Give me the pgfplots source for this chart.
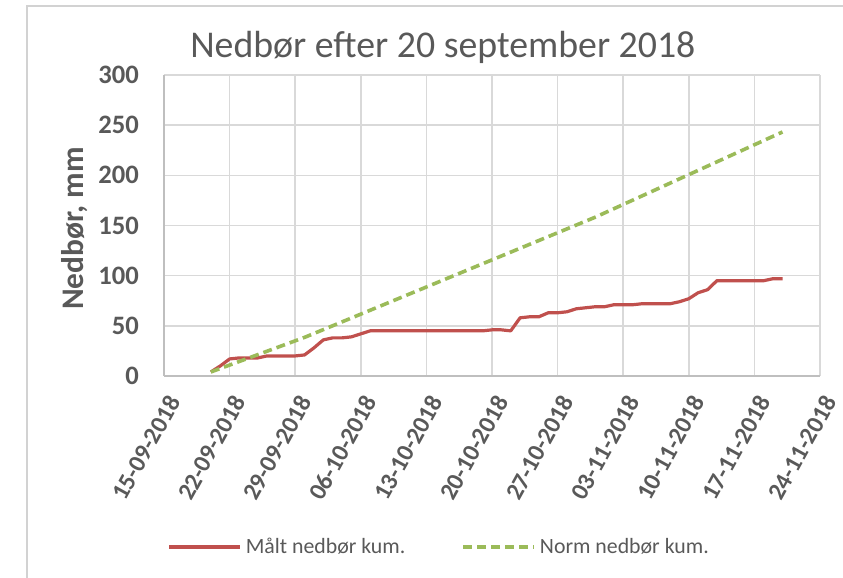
\documentclass[border=0pt]{standalone}
\usepackage{pgfplots}
\pgfplotsset{compat=1.18}
\usepackage{fontspec}
\setmainfont{Carlito}
\definecolor{maaltred}{HTML}{C0504D}
\definecolor{normgreen}{HTML}{9BBB59}
\definecolor{txtgray}{HTML}{595959}
\definecolor{gridgray}{HTML}{D9D9D9}
\definecolor{axisgray}{HTML}{BFBFBF}

% days counted from 15-09-2018
\pgfplotstableread{
day val
5 4
6 10
7 17
8 18
9 18
10 18
11 20
12 20
13 20
14 20
15 21
16 28
17 36
18 38
19 38
20 39
21 42
22 45
23 45
24 45
25 45
26 45
27 45
28 45
29 45
30 45
31 45
32 45
33 45
34 45
35 46
36 46
37 45
38 58
39 59
40 59
41 63
42 63
43 64
44 67
45 68
46 69
47 69
48 71
49 71
50 71
51 72
52 72
53 72
54 72
55 74
56 77
57 83
58 86
59 95
60 95
61 95
62 95
63 95
64 95
65 97
66 97
}\maalt

\pgfplotstableread{
day val
5 4
15 38.5
46 158.2
66 243.2
}\norm

\begin{document}
\begin{tikzpicture}
\useasboundingbox (-82pt,-101pt) rectangle (339.5pt,188pt);
\draw[axisgray!70, line width=1pt] (-68.5pt,-101pt) -- (-68.5pt,185pt) -- (339.5pt,185pt);
\begin{axis}[
    at={(0,0)}, anchor=south west,
    scale only axis,
    width=328pt, height=150.5pt,
    xmin=0, xmax=70, ymin=0, ymax=300,
    xtick={0,7,...,70},
    xticklabels={15-09-2018,22-09-2018,29-09-2018,06-10-2018,13-10-2018,20-10-2018,27-10-2018,03-11-2018,10-11-2018,17-11-2018,24-11-2018},
    ytick={0,50,...,300},
    axis lines=left,
    axis line style={-, draw=axisgray, line width=0.8pt},
    major tick length=0pt,
    grid=major,
    grid style={gridgray, line width=0.8pt},
    /pgf/number format/assume math mode=true,
    yticklabel style={font=\fontsize{13.3}{14}\selectfont\bfseries, text=txtgray, xshift=-9pt},
    xticklabel style={font=\fontsize{12.3}{13}\selectfont\bfseries, text=txtgray, rotate=61, anchor=east, yshift=-9.5pt, xshift=-3.5pt},
    ylabel={Nedbør, mm},
    ylabel style={font=\fontsize{15.7}{16}\selectfont\bfseries, text=txtgray, at={(axis description cs:-0.1357,0.49)}, anchor=center, rotate=0},
    title={Nedbør efter 20 september 2018},
    title style={font=\fontsize{18.9}{20}\selectfont, text=txtgray, at={(axis description cs:0.425,1.018)}, anchor=base},
    legend columns=2,
    legend style={draw=none, fill=none, font=\fontsize{10.9}{12}\selectfont, text=txtgray,
        at={(0.421,-0.568)}, anchor=center,
        /tikz/every even column/.append style={column sep=26pt}},
    legend image code/.code={\draw[#1] (0pt,0pt) -- (35.5pt,0pt);},
]
\addplot[maaltred, line width=1.6pt, line join=round] table[x=day, y=val] {\maalt};
\addlegendentry{Målt nedbør kum.}
\addplot[normgreen, line width=1.8pt, dash pattern=on 4.5pt off 2.5pt] table[x=day, y=val] {\norm};
\addlegendentry{Norm nedbør kum.}
\end{axis}
\end{tikzpicture}
\end{document}
